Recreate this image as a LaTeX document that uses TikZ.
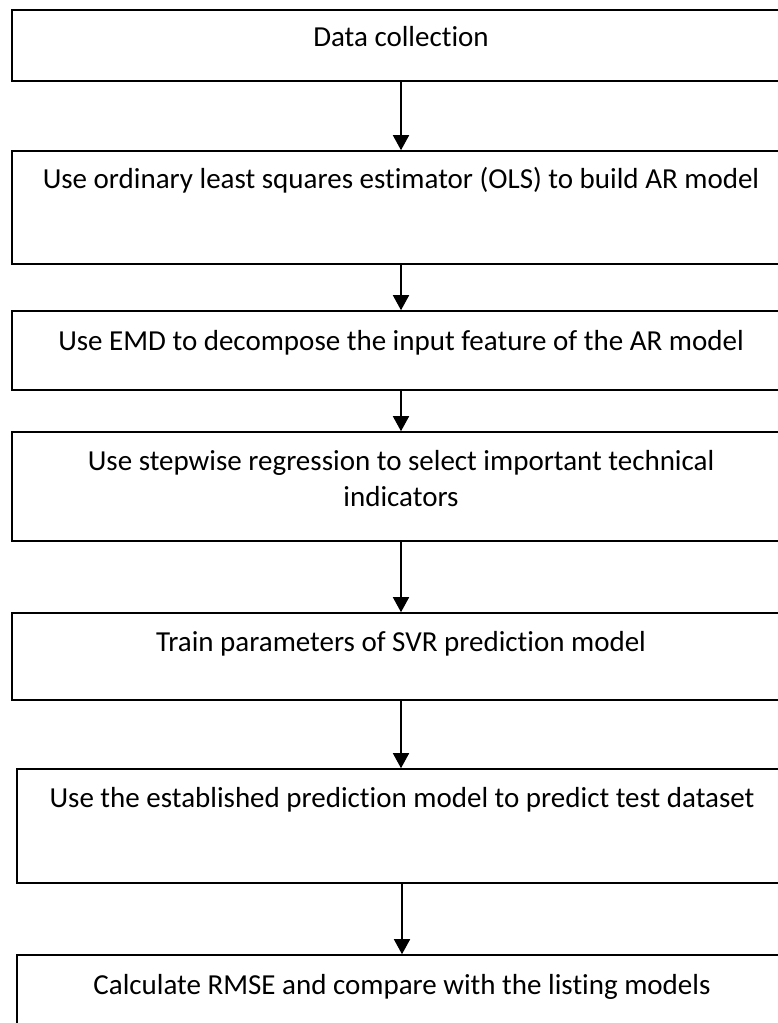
\documentclass[tikz,border=0pt]{standalone}
\usepackage{fontspec}
\setmainfont[Ligatures=NoCommon]{Carlito}
\usetikzlibrary{arrows.meta}

\begin{document}
\begin{tikzpicture}[x=1pt,y=-1pt,
		box/.style={draw,line width=1.6pt,inner sep=0pt,minimum width=778pt},
		txt/.style={anchor=base,font=\fontsize{29}{36}\selectfont,align=center},
		arr/.style={line width=1.6pt,-{Triangle[width=16pt,length=15pt]}}]
	\useasboundingbox (0,0) rectangle (778,1023);
	\begin{scope}
		\clip (0,0) rectangle (778,1023);
		\node[box,minimum height=71pt] (b1) at (401,45.5) {};
		\node[box,minimum height=113pt] (b2) at (401,207.5) {};
		\node[box,minimum height=79pt] (b3) at (401,350.5) {};
		\node[box,minimum height=109pt] (b4) at (401,486.5) {};
		\node[box,minimum height=87pt] (b5) at (401,656.5) {};
		\node[box,minimum width=770pt,minimum height=114pt] (b6) at (402,826) {};
		\node[box,minimum width=770pt,minimum height=85pt] (b7) at (402,997.5) {};
	\end{scope}
	\node[txt] (t1) at (401,46) {Data collection};
	\node[txt] (t2) at (401,188) {Use ordinary least squares estimator (OLS) to build AR model};
	\node[txt] (t3) at (401,350) {Use EMD to decompose the input feature of the AR model};
	\node[txt] (t4) at (401,506) {Use stepwise regression to select important technical\\indicators};
	\node[txt] (t5) at (401,651) {Train parameters of SVR prediction model};
	\node[txt] (t6) at (402,807) {Use the established prediction model to predict test dataset};
	\node[txt] (t7) at (402,994) {Calculate RMSE and compare with the listing models};
	% flow
	\draw[arr] (b1) -- (b2);
	\draw[arr] (b2) -- (b3);
	\draw[arr] (b3) -- (b4);
	\draw[arr] (b4) -- (b5);
	\draw[arr] (b5.south) -- (b5.south |- b6.north);
	\draw[arr] (b6) -- (b7);
\end{tikzpicture}
\end{document}
